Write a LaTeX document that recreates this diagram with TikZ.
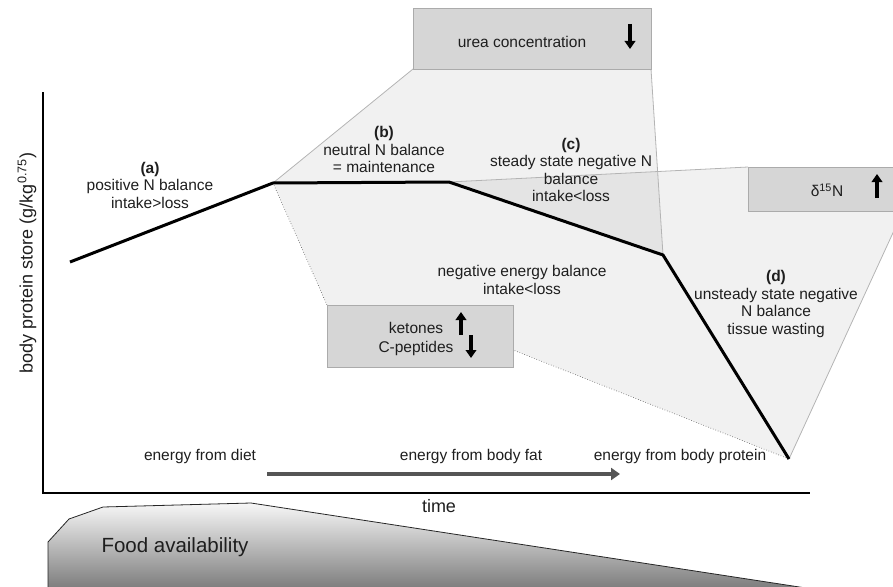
\documentclass[tikz,border=0pt]{standalone}
\usepackage{fontspec}
\setmainfont{Liberation Sans}
\usetikzlibrary{arrows.meta}
\definecolor{txt}{HTML}{1E1E1E}
\definecolor{boxfill}{HTML}{D6D6D6}
\definecolor{boxline}{HTML}{ABABAB}
\definecolor{reglinec}{HTML}{B4B4B4}
\definecolor{energyarrow}{HTML}{555555}
\begin{document}
\begin{tikzpicture}[x=1pt,y=-1pt,
  lbl/.style={font=\fontsize{15.5}{17.5}\selectfont, text=txt, align=center, inner sep=0pt},
  axlbl/.style={font=\fontsize{18}{20}\selectfont, text=txt, inner sep=0pt},
  infobox/.style={draw=boxline, fill=boxfill, line width=0.9pt, inner sep=0pt, anchor=north west},
  region/.style={fill=black, fill opacity=0.055, draw=none},
  regline/.style={draw=reglinec, line width=0.8pt},
  dotline/.style={draw=black!70, line width=0.6pt, dotted},
  bigarrow/.style={line width=3.6pt, -{Triangle[width=10.5pt,length=8pt]}, black},
]
\useasboundingbox (0,0) rectangle (893,586);
\clip (0,0) rectangle (893,586);

% curve points
\coordinate (p0) at (70,262);
\coordinate (p1) at (273,183);
\coordinate (p2) at (449,182);
\coordinate (p3) at (663,255);
\coordinate (p4) at (789,459);

% region corner points
\coordinate (uSW) at (413,69);
\coordinate (uSE) at (651,69);
\coordinate (dNW) at (748,167);
\coordinate (dNE) at (905,167);
\coordinate (dR) at (903,211);
\coordinate (kNW) at (327,305);
\coordinate (kNE) at (513,305);
\coordinate (kE) at (513,350);

% shaded regions
\fill[region] (p1) -- (uSW) -- (uSE) -- (p3) -- (p2) -- cycle;
\fill[region] (p2) -- (dNW) -- (dNE) -- (dR) -- (p4) -- (p3) -- cycle;
\fill[region] (p1) -- (kNW) -- (kNE) -- (kE) -- (p4) -- (p3) -- (p2) -- cycle;

% region borders
\draw[regline] (p1) -- (uSW);
\draw[regline] (uSE) -- (p3);
\draw[regline] (p2) -- (dNW);
\draw[regline] (dR) -- (p4);
\draw[dotline] (p1) -- (kNW);
\draw[dotline] (kNE) -- (kE) -- (p4);

% axes
\draw[line width=2.6pt, black] (43,92) -- (43,493) -- (810,493);

% curve
\draw[line width=3pt, black, line join=round] (p0) -- (p1) -- (p2) -- (p3) -- (p4);

% boxes
\node[infobox, minimum width=238pt, minimum height=61pt] (urea) at (413,8) {};
\node[infobox, minimum width=160pt, minimum height=44pt] (d15) at (748,167) {};
\node[infobox, minimum width=186pt, minimum height=62pt] (ket) at (327,305) {};

\node[lbl] (ureatxt) at (522,42) {urea concentration};
\draw[bigarrow] (630,24) -- (630,49);
\node[lbl] (d15txt) at (827,190) {δ\textsuperscript{15}N};
\draw[bigarrow] (877,198) -- (877,174);
\node[lbl] (kettxt) at (416,328) {ketones};
\node[lbl] (cptxt) at (416,348) {C-peptides};
\draw[bigarrow] (461,335) -- (461,312);
\draw[bigarrow] (471,335) -- (471,358);

% phase labels
\node[lbl] (la) at (150,185) {\textbf{(a)}\\positive N balance\\intake>loss};
\node[lbl] (lb) at (384,149.5) {\textbf{(b)}\\neutral N balance\\= maintenance};
\node[lbl] (lc) at (571,170) {\textbf{(c)}\\steady state negative N\\balance\\intake<loss};
\node[lbl] (le) at (522,280) {negative energy balance\\intake<loss};
\node[lbl] (ld) at (776,304) {\textbf{(d)}\\unsteady state negative\\N balance\\tissue wasting};

% energy sources
\node[lbl] (ediet) at (200,456) {energy from diet};
\node[lbl] (efat) at (471,456) {energy from body fat};
\node[lbl] (eprot) at (680,456) {energy from body protein};
\draw[line width=4.8pt, energyarrow, -{Triangle[width=12pt,length=9pt]}] (267,474) -- (620,474);

% axis labels
\node[axlbl] (tlab) at (439,506) {time};
\node[axlbl, rotate=90] (ylab) at (27,263) {body protein store (g/kg\textsuperscript{0.75})};

% food availability
\shade[top color=black!3, bottom color=black!52] (48,590) -- (48,542) -- (69,519) -- (103,507) -- (251,503) -- (819,590) -- cycle;
\draw[line width=0.8pt, black!85] (48,590) -- (48,542) -- (69,519) -- (103,507) -- (251,503) -- (819,590);
\node[font=\fontsize{20.5}{23}\selectfont, text=txt, inner sep=0pt] (food) at (175,547) {Food availability};
\end{tikzpicture}
\end{document}
